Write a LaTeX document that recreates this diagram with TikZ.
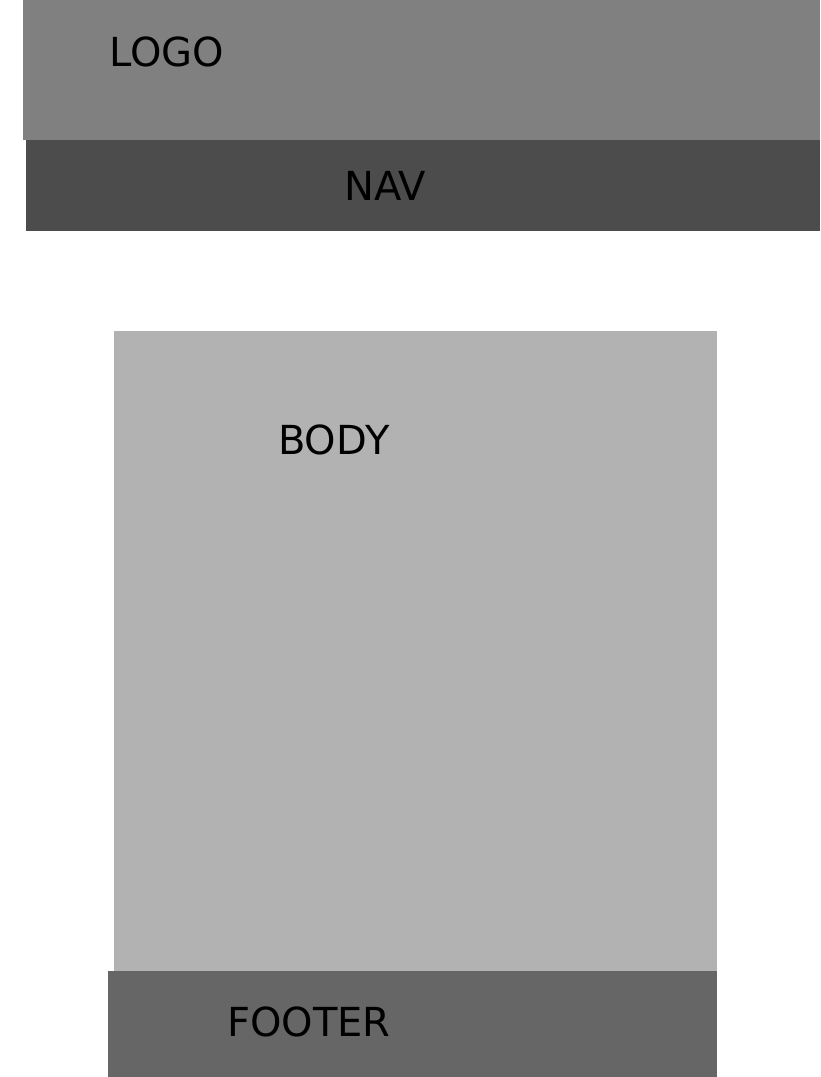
\documentclass[tikz,border=0pt]{standalone}
\usepackage{fontspec}
\setmainfont{DejaVu Sans}
\usepackage{xcolor}
\usepackage{tikz}
\usetikzlibrary{positioning}

\begin{document}
\begin{tikzpicture}[
  x=1pt, y=-1pt,
  area/.style={draw=none, inner sep=0pt, outer sep=0pt, anchor=north west},
  logoarea/.style={area, fill=black!50},
  navarea/.style={area, fill=black!70},
  bodyarea/.style={area, fill=black!30},
  footarea/.style={area, fill=black!60},
  caption/.style={inner sep=0pt, anchor=base west, font=\fontsize{40}{48}\selectfont}
]
\useasboundingbox (0,0) rectangle (820,1077);
% page regions
\node[logoarea, minimum width=797pt, minimum height=140pt] (logo) at (23,0) {};
\node[navarea, minimum width=794pt, minimum height=91pt] (nav) at (26,140) {};
\node[bodyarea, minimum width=603pt, minimum height=640pt] (body) at (114,331) {};
\node[footarea, minimum width=609pt, minimum height=106pt] (footer) at (108,971) {};
% captions
\node[caption] (logotext) at (109,66) {LOGO};
\node[caption] (navtext) at (344,200) {NAV};
\node[caption] (bodytext) at (278,454) {BODY};
\node[caption] (foottext) at (227,1036) {FOOTER};
\end{tikzpicture}
\end{document}
